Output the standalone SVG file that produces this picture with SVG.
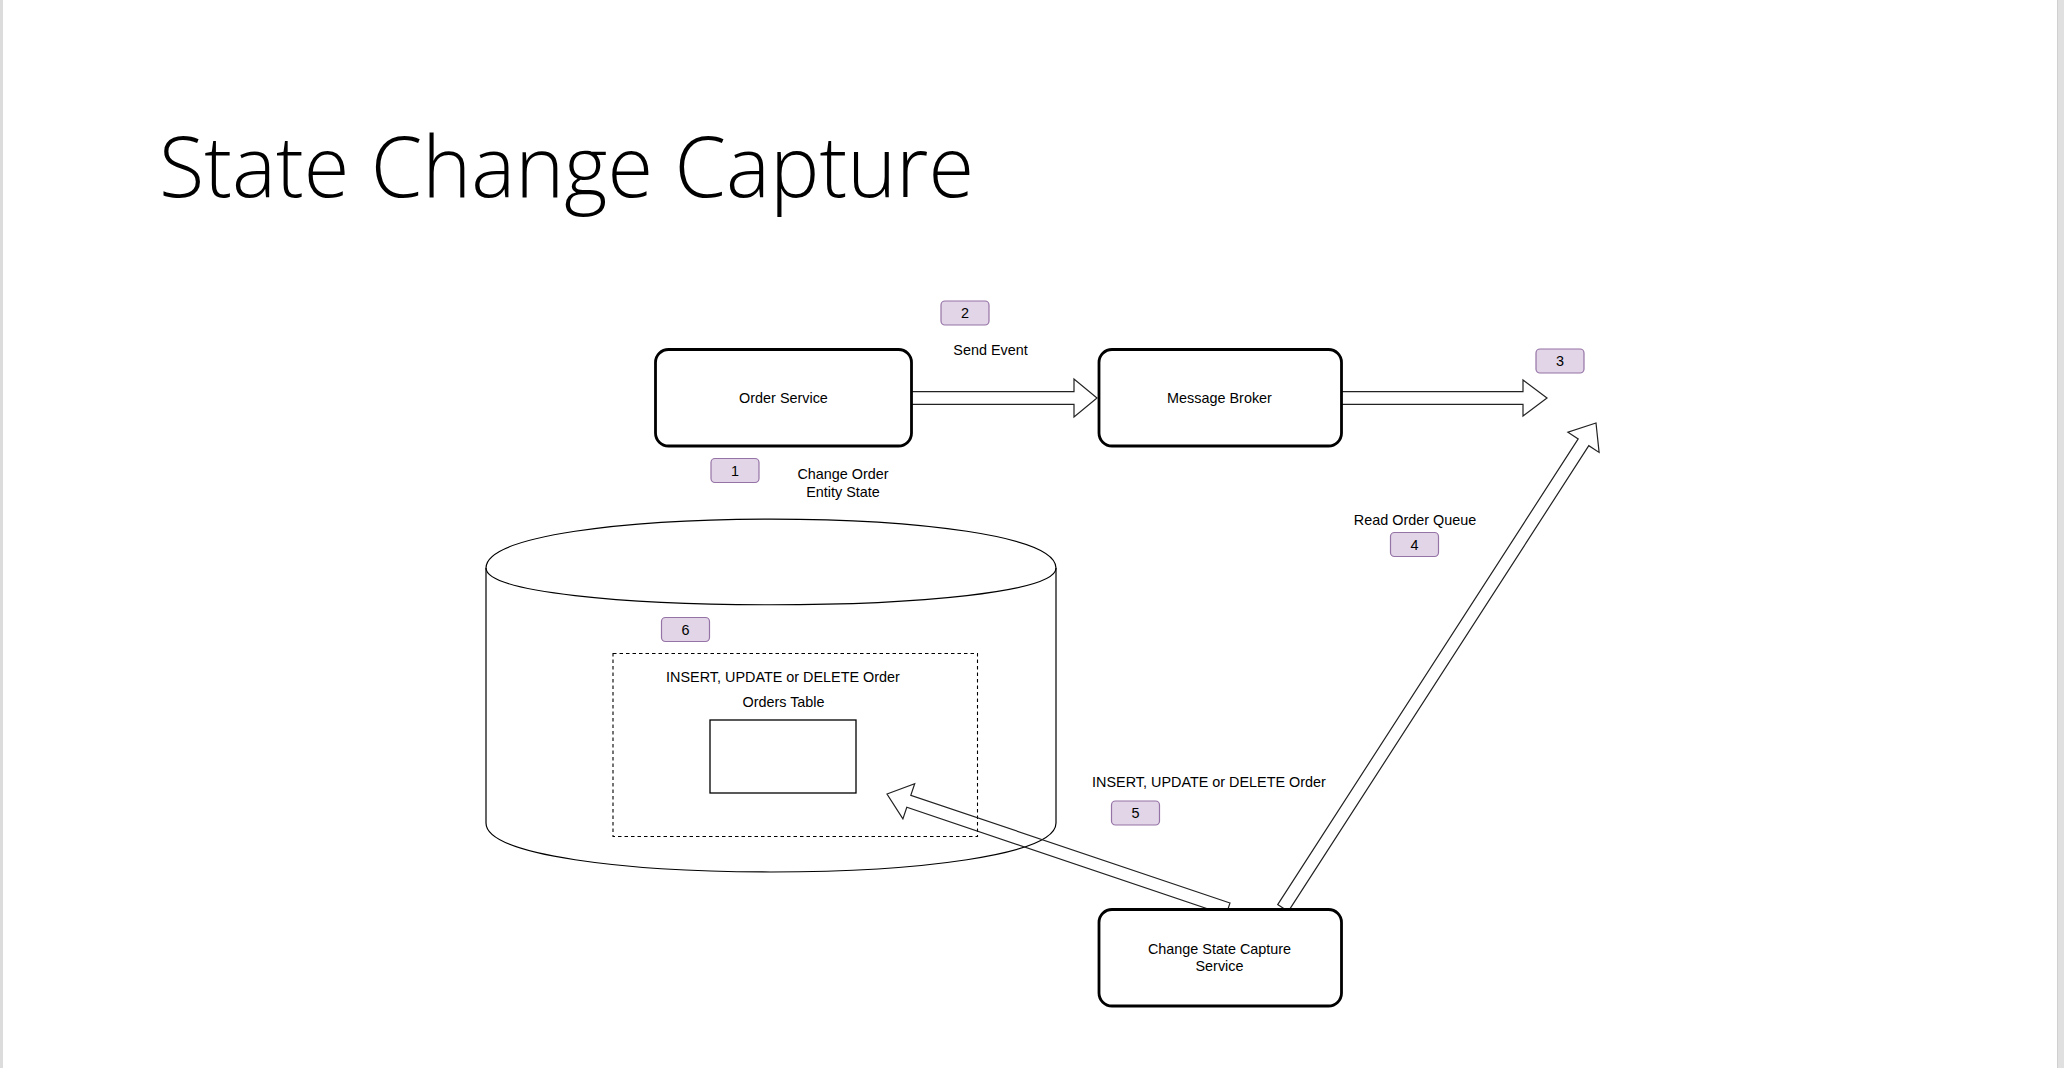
<svg xmlns="http://www.w3.org/2000/svg" width="2064" height="1068" viewBox="0 0 2064 1068">
<style>
.lbl{font-family:"Liberation Sans",Arial,sans-serif;font-size:14.4px;fill:#000;text-anchor:middle}
.box{fill:#fff;stroke:#000;stroke-width:2.8}
.badge{fill:#e1d5e7;stroke:#9673a6;stroke-width:1.2}
.arrow{fill:none;stroke:#222;stroke-width:1.2;stroke-linejoin:miter}
.title{font-family:"Open Sans","Noto Sans",sans-serif;font-weight:300;font-size:85px;fill:#000}
</style>
<rect x="0" y="0" width="2064" height="1068" fill="#fff"/>
<rect x="0" y="0" width="3" height="1068" fill="#dcdcdc"/>
<rect x="2057" y="0" width="7" height="1068" fill="#e0e0e0"/>
<line x1="2057.5" y1="0" x2="2057.5" y2="1068" stroke="#d0d0d0" stroke-width="1"/>

<text class="title" x="159" y="197" textLength="815" lengthAdjust="spacingAndGlyphs">State Change Capture</text>

<g id="database">
<path d="M486,568 C486,502.7 1056,502.7 1056,568 L1056,823 C1056,888.3 486,888.3 486,823 Z" fill="#fff" stroke="#000" stroke-width="1.2"/>
<path d="M486,568 C486,617 1056,617 1056,568" fill="none" stroke="#000" stroke-width="1.2"/>
</g>

<g id="orders-container">
<rect x="613" y="653.5" width="364.5" height="183" fill="none" stroke="#000" stroke-width="1.1" stroke-dasharray="3.5 3"/>
<text class="lbl" x="783" y="682">INSERT, UPDATE or DELETE Order</text>
<text class="lbl" x="783.5" y="707">Orders Table</text>
</g>

<g id="orders-table">
<rect x="710" y="720" width="146" height="73" fill="#fff" stroke="#000" stroke-width="1.3"/>
</g>

<g id="connectors">
<polygon class="arrow" points="911,391.7 1074,391.7 1074,379 1097,398 1074,417 1074,404.3 911,404.3"/>
<polygon class="arrow" points="1341,391.7 1523,391.7 1523,380 1547,398 1523,416 1523,404.3 1341,404.3"/>
<polygon class="arrow" points="1277.7,904.6 1578.2,438.9 1567.9,432.2 1596,423 1599.1,452.4 1588.8,445.7 1288.3,911.4"/>
<polygon class="arrow" points="1230,903 910.8,795.3 914.7,783.7 887,794 902.9,818.9 906.8,807.3 1226,915"/>
</g>

<g id="order-service">
<rect class="box" x="655.5" y="349.5" width="256" height="96.5" rx="13"/>
<text class="lbl" x="783.5" y="403">Order Service</text>
</g>

<g id="message-broker">
<rect class="box" x="1099" y="349.5" width="242.5" height="96.5" rx="13"/>
<text class="lbl" x="1219.5" y="403">Message Broker</text>
</g>

<g id="change-state-capture-service">
<rect class="box" x="1099" y="909.5" width="242.5" height="96.5" rx="13"/>
<text class="lbl" x="1219.5" y="954">Change State Capture</text>
<text class="lbl" x="1219.5" y="971">Service</text>
</g>

<g id="label-send-event"><text class="lbl" x="990.5" y="355">Send Event</text></g>
<g id="label-change-order"><text class="lbl" x="843" y="479">Change Order</text><text class="lbl" x="843" y="497">Entity State</text></g>
<g id="label-read-order-queue"><text class="lbl" x="1415" y="525">Read Order Queue</text></g>
<g id="label-insert-update-delete"><text class="lbl" x="1209" y="787">INSERT, UPDATE or DELETE Order</text></g>

<g id="badge-1"><rect class="badge" x="711" y="458.5" width="48" height="24" rx="4"/><text class="lbl" x="735" y="475.5">1</text></g>
<g id="badge-2"><rect class="badge" x="941" y="301" width="48" height="24" rx="4"/><text class="lbl" x="965" y="318">2</text></g>
<g id="badge-3"><rect class="badge" x="1536" y="349" width="48" height="24" rx="4"/><text class="lbl" x="1560" y="366">3</text></g>
<g id="badge-4"><rect class="badge" x="1390.5" y="532.5" width="48" height="24" rx="4"/><text class="lbl" x="1414.5" y="549.5">4</text></g>
<g id="badge-5"><rect class="badge" x="1111.5" y="801" width="48" height="24" rx="4"/><text class="lbl" x="1135.5" y="818">5</text></g>
<g id="badge-6"><rect class="badge" x="661.5" y="617.5" width="48" height="24" rx="4"/><text class="lbl" x="685.5" y="634.5">6</text></g>
</svg>
